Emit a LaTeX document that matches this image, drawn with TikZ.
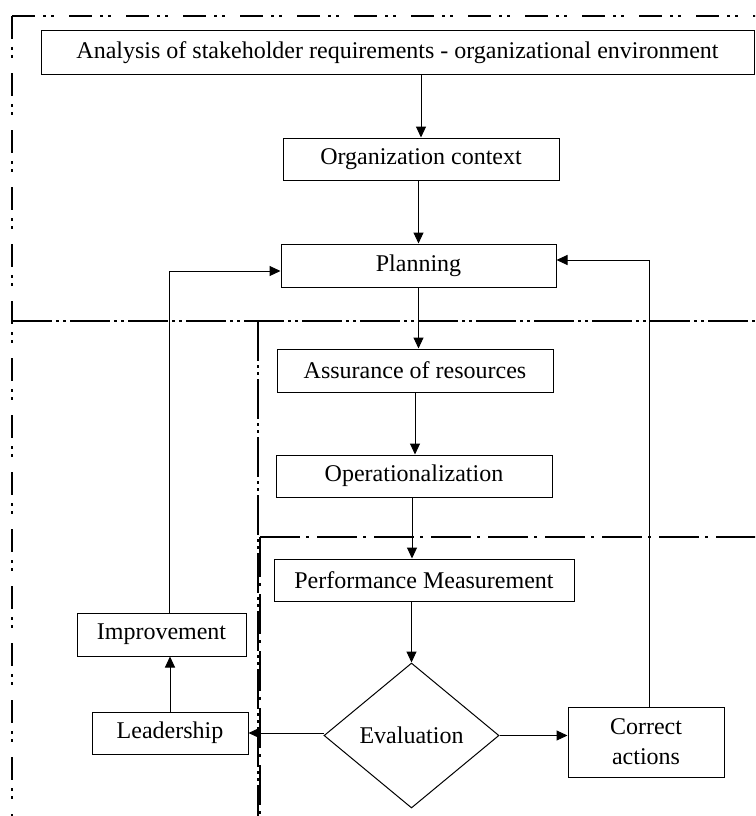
\documentclass[tikz,border=0pt]{standalone}
\usepackage{fontspec}
\setmainfont{Liberation Serif}
\usetikzlibrary{shapes.geometric,arrows.meta}
\begin{document}
\begin{tikzpicture}[x=1pt,y=-1pt,
  font=\fontsize{24}{30}\selectfont,
  box/.style={draw,line width=1pt,inner sep=0pt,align=center},
  arr/.style={line width=1pt,-{Triangle[length=11pt,width=10pt]}},
  frameA/.style={line width=2pt,dash pattern=on 23pt off 8pt on 3pt off 5pt on 3pt off 15pt},
  frameB/.style={line width=2pt,dash pattern=on 40pt off 4pt on 3pt off 4pt on 3pt off 4pt},
  frameC/.style={line width=2pt,dash pattern=on 40pt off 6pt on 3pt off 8pt}]
\useasboundingbox (0,0) rectangle (755,816);
\begin{scope}
\clip (0,0) rectangle (755,816);
\draw[frameA] (12,16) -- (760,16);
\draw[frameA] (12,16) -- (12,820);
\draw[frameB] (12,321) -- (760,321);
\draw[frameB] (258,321) -- (258,820);
\draw[frameC] (260,537) -- (760,537);
\draw[frameC] (260,537) -- (260,820);
\end{scope}

\node[box,minimum width=713pt,minimum height=43pt] (ana) at (397.5,52.5) {Analysis of stakeholder requirements - organizational environment};
\node[box,minimum width=276pt,minimum height=42pt] (org) at (421,159) {Organization context};
\node[box,minimum width=275pt,minimum height=43pt] (plan) at (418.5,265.5) {Planning};
\node[box,minimum width=276pt,minimum height=43pt] (ass) at (415,370.5) {Assurance of resources};
\node[box,minimum width=276pt,minimum height=42pt] (op) at (414,476) {Operationalization};
\node[box,minimum width=300pt,minimum height=42pt] (pm) at (424,580) {Performance Measurement};
\node[draw,line width=1pt,shape=diamond,inner sep=0pt,minimum width=175pt,minimum height=145pt] (ev) at (411.5,735.5) {Evaluation};
\node[box,minimum width=156pt,minimum height=70pt] (ca) at (646,742) {Correct\\actions};
\node[box,minimum width=156pt,minimum height=42pt] (lead) at (170,733) {Leadership};
\node[box,minimum width=169pt,minimum height=43pt] (imp) at (161.5,634.5) {Improvement};

\draw[arr] (ana.south -| org.north) -- (org.north);
\draw[arr] (org.south -| plan.north) -- (plan.north);
\draw[arr] (plan.south) -- (plan.south |- ass.north);
\draw[arr] (ass.south) -- (ass.south |- op.north);
\draw[arr] ([xshift=-2pt]op.south) -- ([xshift=-2pt]op.south |- pm.north);
\draw[arr] (pm.south -| ev.north) -- (ev.north);
\draw[arr] (ev.east) -- (ev.east -| ca.west);
\draw[arr] (lead.east -| ev.west) -- (lead.east);
\draw[arr] (lead.north) -- (lead.north |- imp.south);
\draw[arr] ([xshift=-1pt]lead.north |- imp.north) |- ([yshift=-5.5pt]plan.west);
\draw[arr] ([xshift=3pt]ca.north) |- ([yshift=5.5pt]plan.east);
\end{tikzpicture}
\end{document}
